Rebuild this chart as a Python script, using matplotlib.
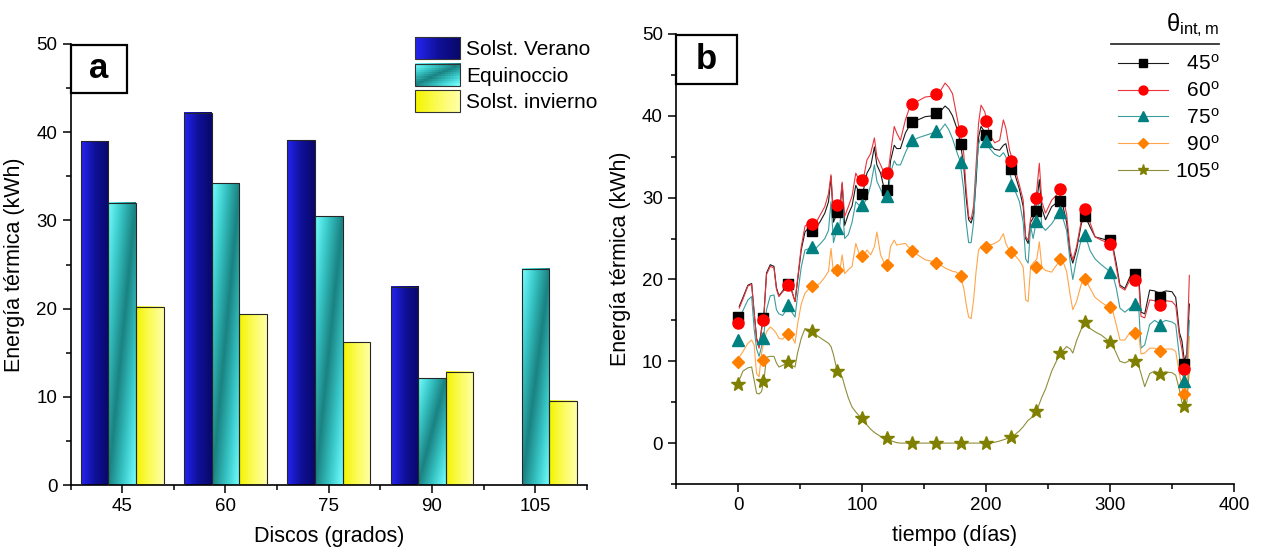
import numpy as np
import matplotlib
matplotlib.use('Agg')
import matplotlib.pyplot as plt
from matplotlib.colors import LinearSegmentedColormap
from matplotlib.legend_handler import HandlerBase
from matplotlib.patches import Rectangle, Patch
from matplotlib.lines import Line2D
from matplotlib.ticker import MultipleLocator, FixedLocator

plt.rcParams['font.family'] = ['Liberation Sans', 'DejaVu Sans']
plt.rcParams['mathtext.fontset'] = 'custom'
plt.rcParams['mathtext.rm'] = 'Liberation Sans'
plt.rcParams['mathtext.it'] = 'Liberation Sans:italic'
plt.rcParams['mathtext.bf'] = 'Liberation Sans:bold'

# ---- (a) energía por disco en los días característicos ----
discos = ['45', '60', '75', '90', '105']
verano = [39.0, 42.2, 39.1, 22.5, np.nan]
equinoccio = [32.0, 34.2, 30.45, 12.1, 24.5]
invierno = [20.2, 19.35, 16.2, 12.85, 9.55]

# ---- (b) simulación anual, kWh por día ----
dias = [1, 4, 8, 11, 13, 15, 17, 19, 21, 23, 26, 29, 31, 33, 36, 40, 43, 46, 48, 51,
        54, 58, 62, 66, 70, 73, 75, 77, 80, 82, 84, 86, 89, 92, 95, 98, 101, 104, 107, 110,
        112, 115, 118, 121, 123, 126, 128, 131, 135, 139, 145, 151, 157, 163, 167, 170, 173, 176, 179, 182,
        184, 186, 188, 190, 192, 194, 196, 199, 203, 207, 211, 214, 216, 219, 223, 227, 230, 232, 234, 236,
        238, 241, 243, 245, 248, 253, 258, 262, 265, 268, 270, 273, 277, 280, 284, 288, 293, 298, 302, 305,
        308, 312, 316, 320, 323, 325, 328, 332, 336, 340, 345, 350, 353, 356, 358, 360, 362, 364]

e45 = [16.7, 17.8, 19.3, 19.5, 16.0, 12.8, 11.8, 14.0, 16.0, 20.8, 21.8, 21.6, 19.0, 18.0, 18.6, 19.2, 18.8, 17.3, 19.8, 23.6,
       25.8, 26.5, 26.2, 27.0, 28.1, 29.5, 32.6, 27.0, 28.2, 28.0, 31.7, 26.6, 28.0, 29.0, 31.5, 30.5, 30.8, 33.0, 33.8, 36.2,
       34.0, 33.0, 31.0, 31.0, 34.5, 36.4, 36.0, 36.0, 37.9, 39.0, 39.5, 39.9, 40.0, 40.5, 41.2, 40.8, 40.0, 38.7, 37.0, 34.0,
       30.0, 27.3, 26.9, 28.0, 32.0, 37.4, 38.7, 38.0, 36.5, 35.9, 35.8, 36.4, 36.6, 34.6, 33.0, 31.0, 28.9, 25.0, 24.4, 27.0,
       27.5, 29.5, 32.2, 28.7, 27.3, 28.9, 29.5, 29.0, 27.0, 23.0, 22.0, 23.6, 26.9, 27.7, 26.4, 25.2, 25.0, 24.8, 24.3, 22.0,
       19.3, 18.9, 20.3, 20.7, 20.9, 16.0, 15.8, 18.7, 18.6, 18.3, 18.6, 18.5, 17.8, 13.5, 12.5, 10.0, 11.0, 17.0]

e60 = [16.5, 17.6, 19.2, 19.4, 16.0, 12.6, 11.6, 13.8, 15.8, 20.6, 21.6, 21.4, 18.8, 17.9, 18.5, 19.1, 18.7, 17.3, 20.0, 24.0,
       26.5, 27.0, 26.7, 27.8, 28.9, 30.5, 32.8, 28.0, 29.0, 28.8, 31.9, 27.7, 28.9, 30.2, 33.0, 32.0, 32.2, 34.6, 35.4, 37.3,
       35.0, 34.0, 33.0, 33.0, 35.4, 38.7, 37.9, 37.0, 39.5, 41.3, 41.8, 42.3, 42.4, 43.0, 44.0, 43.5, 42.7, 40.3, 38.0, 35.5,
       31.0, 27.7, 27.3, 29.0, 34.0, 39.1, 41.3, 40.5, 37.7, 36.7, 37.0, 39.5, 38.5, 35.8, 33.8, 31.5, 29.7, 25.2, 24.8, 27.5,
       28.0, 31.0, 34.2, 29.5, 28.1, 29.7, 30.5, 30.0, 28.0, 23.5, 22.4, 24.0, 27.3, 28.5, 26.9, 25.2, 24.8, 24.5, 24.0, 21.5,
       19.1, 18.7, 19.9, 19.8, 20.0, 15.5, 15.3, 17.5, 17.4, 17.0, 17.4, 17.3, 16.8, 13.0, 11.5, 9.2, 11.0, 20.5]

e75 = [15.2, 16.2, 17.5, 17.9, 14.0, 11.5, 10.6, 11.8, 13.5, 16.3, 18.0, 18.1, 16.3, 15.8, 15.6, 16.5, 16.1, 15.4, 18.0, 21.5,
       23.6, 23.8, 23.7, 24.3, 25.0, 26.0, 29.5, 24.5, 26.3, 26.5, 29.5, 25.0, 25.5, 27.0, 29.5, 29.0, 29.1, 30.0, 31.5, 34.0,
       32.0, 31.0, 30.0, 30.2, 33.0, 34.5, 34.0, 34.0, 35.5, 36.8, 37.3, 37.6, 37.9, 38.2, 39.0, 38.3, 37.2, 35.8, 34.5, 31.0,
       27.0, 24.5, 24.5, 27.0, 33.0, 36.5, 37.5, 37.0, 36.0, 35.3, 35.0, 35.5, 35.0, 33.0, 31.0, 29.5, 27.0, 22.5, 22.0, 26.5,
       25.0, 27.5, 30.5, 26.5, 26.0, 26.8, 28.0, 27.5, 26.0, 22.0, 20.0, 22.5, 25.0, 25.4, 23.5, 22.5, 21.8, 21.2, 20.7, 19.0,
       16.5, 16.0, 16.5, 17.0, 17.0, 11.6, 12.0, 14.5, 15.0, 14.6, 15.0, 14.8, 14.5, 10.5, 8.5, 7.8, 9.0, 15.0]

e90 = [10.5, 11.2, 12.2, 12.6, 12.0, 8.5, 8.1, 11.0, 12.5, 13.6, 14.2, 13.8, 13.4, 12.8, 12.7, 13.4, 13.2, 12.2, 14.5, 17.0,
       18.3, 19.0, 19.2, 19.5, 20.3, 21.0, 23.8, 20.7, 21.1, 21.0, 23.0, 20.7, 21.2, 21.6, 24.4, 23.0, 22.8, 23.6, 23.0, 24.0,
       25.8, 23.0, 22.0, 21.8, 24.0, 24.8, 24.2, 24.3, 24.4, 23.7, 23.0, 22.4, 22.2, 21.8, 21.4, 21.2, 21.0, 20.9, 20.5, 19.0,
       17.0, 15.4, 15.2, 17.5, 21.0, 23.6, 24.0, 24.0, 24.2, 24.4, 24.8, 25.6, 24.4, 23.5, 23.0, 22.3, 21.5, 17.5, 17.3, 21.6,
       22.0, 22.5, 24.6, 21.5, 21.1, 20.9, 22.0, 22.2, 21.0, 18.0, 16.3, 17.3, 19.5, 20.1, 18.9, 17.8, 17.2, 16.7, 16.3, 14.5,
       12.6, 12.6, 13.5, 13.4, 13.5, 10.9, 11.0, 11.6, 11.6, 11.3, 11.5, 11.5, 11.2, 8.5, 6.8, 6.1, 7.0, 13.0]

e105 = [7.7, 8.8, 9.2, 9.3, 7.7, 6.1, 6.0, 6.3, 7.8, 10.5, 10.6, 10.6, 9.8, 9.3, 9.5, 9.8, 9.5, 9.3, 11.0, 12.8,
        14.0, 13.8, 13.3, 12.9, 12.5, 12.2, 11.8, 10.8, 8.8, 8.4, 8.1, 7.0, 5.5, 4.4, 3.8, 3.3, 2.9, 2.2, 1.7, 1.3,
        1.1, 0.8, 0.6, 0.4, 0.3, 0.15, 0.05, 0.0, 0.0, 0.0, 0.0, 0.0, 0.0, 0.0, 0.0, 0.0, 0.0, 0.0, 0.0, 0.0,
        0.0, 0.0, 0.0, 0.0, 0.0, 0.0, 0.0, 0.0, 0.0, 0.1, 0.25, 0.4, 0.5, 0.7, 1.0, 1.5, 2.0, 2.4, 2.8, 3.0,
        3.4, 4.0, 4.8, 5.6, 6.6, 8.8, 10.4, 11.3, 11.8, 11.5, 11.0, 12.5, 14.0, 14.8, 14.0, 13.6, 13.2, 12.6, 12.0, 11.0,
        10.0, 9.8, 10.1, 9.9, 9.5, 8.5, 6.9, 8.5, 8.8, 8.5, 8.7, 8.6, 8.3, 6.5, 5.0, 4.5, 5.0, 9.0]

# valores marcados cada 20 días
dias_m = [0, 20, 40, 60, 80, 100, 120, 140, 160, 180, 200, 220, 240, 260, 280, 300, 320, 340, 360]
m45 = [15.4, 15.3, 19.4, 25.9, 28.2, 30.5, 30.9, 39.2, 40.3, 36.5, 37.7, 33.5, 28.4, 29.6, 27.7, 24.8, 20.7, 17.8, 9.7]
m60 = [14.7, 15.0, 19.3, 26.8, 29.1, 32.2, 33.0, 41.5, 42.7, 38.1, 39.4, 34.5, 29.9, 31.1, 28.6, 24.3, 19.9, 16.9, 9.0]
m75 = [12.6, 12.9, 16.9, 24.0, 26.3, 29.1, 30.2, 37.0, 38.1, 34.3, 36.9, 31.6, 27.1, 28.2, 25.4, 20.9, 17.0, 14.4, 7.6]
m90 = [9.9, 10.2, 13.3, 19.2, 21.1, 22.9, 21.8, 23.5, 22.0, 20.4, 24.0, 23.4, 21.5, 22.5, 20.1, 16.6, 13.4, 11.2, 6.0]
m105 = [7.2, 7.6, 9.9, 13.7, 8.8, 3.1, 0.6, 0.0, 0.0, 0.0, 0.0, 0.8, 3.9, 11.0, 14.8, 12.3, 10.0, 8.4, 4.5]


def gradient_field(nx, ny, diagonal):
    # 0..1 a lo largo de la barra; en diagonal el tono cambia de lado con la altura
    u = np.linspace(0, 1, nx)[None, :]
    v = np.linspace(1, 0, ny)[:, None]
    if diagonal:
        return np.abs(u - v)
    return np.repeat(u, ny, axis=0)


class GradientPatchHandler(HandlerBase):
    """Cuadro de leyenda relleno con el mismo degradado que las barras."""
    def __init__(self, cmap, diagonal=False, **kw):
        super().__init__(**kw)
        self.cmap = cmap
        self.diagonal = diagonal

    def create_artists(self, legend, orig_handle, xdescent, ydescent,
                       width, height, fontsize, trans):
        nx, ny = 30, 10
        field = gradient_field(nx, ny, self.diagonal)
        arts = []
        dx, dy = width / nx, height / ny
        for j in range(ny):
            for i in range(nx):
                arts.append(Rectangle((-xdescent + i * dx, -ydescent + height - (j + 1) * dy),
                                      dx + 0.3, dy + 0.3, facecolor=self.cmap(field[j, i]),
                                      edgecolor='none', transform=trans))
        arts.append(Rectangle((-xdescent, -ydescent), width, height, facecolor='none',
                              edgecolor='#333333', lw=0.8, transform=trans))
        return arts


def gradient_bars(ax, xpos, values, width, cmap, diagonal=False):
    field = gradient_field(64, 128, diagonal)
    for x, v in zip(xpos, values):
        if np.isnan(v) or v <= 0:
            continue
        ax.imshow(field, cmap=cmap, vmin=0, vmax=1, extent=[x - width / 2, x + width / 2, 0, v],
                  aspect='auto', interpolation='bicubic', zorder=2)
    ax.bar(xpos, values, width, facecolor='none', edgecolor='#262626', lw=0.8, zorder=3)


def panel_tag(ax, letter):
    ax.add_patch(Rectangle((0.0, 0.89), 0.11, 0.108, transform=ax.transAxes,
                           facecolor='white', edgecolor='black', lw=1.6, zorder=5, clip_on=False))
    ax.text(0.055, 0.944, letter, transform=ax.transAxes, ha='center', va='center',
            fontsize=25, fontweight='bold', zorder=6)


fig = plt.figure(figsize=(12.61, 5.58), dpi=100)

# ---------------- panel a ----------------
ax = fig.add_axes([70.5 / 1261, 73 / 558, 516.5 / 1261, 441 / 558])
cm_ver = LinearSegmentedColormap.from_list('ver', ['#2424f2', '#10109a', '#08086a'])
cm_equ = LinearSegmentedColormap.from_list('equ', ['#1a8282', '#38c6c6', '#74ffff'])
cm_inv = LinearSegmentedColormap.from_list('inv', ['#f4f400', '#fbfb5a', '#ffffa8'])

x = np.arange(1, len(discos) + 1)
w = 0.267
gradient_bars(ax, x - w, verano, w, cm_ver)
gradient_bars(ax, x, equinoccio, w, cm_equ, diagonal=True)
gradient_bars(ax, x + w, invierno, w, cm_inv)

ax.set_xlim(0.5, 5.5)
ax.set_ylim(0, 50)
ax.set_xticks(x)
ax.set_xticklabels(discos)
ax.xaxis.set_minor_locator(FixedLocator(np.arange(0.5, 5.6, 1.0)))
ax.yaxis.set_major_locator(MultipleLocator(10))
ax.yaxis.set_minor_locator(MultipleLocator(5))
for s in ['top', 'right']:
    ax.spines[s].set_visible(False)
for s in ['left', 'bottom']:
    ax.spines[s].set_linewidth(1.2)
ax.tick_params(which='major', direction='out', length=6, width=1.1, labelsize=13.5)
ax.tick_params(which='minor', direction='out', length=3.5, width=1.1)
ax.set_xlabel('Discos (grados)', fontsize=15.5, labelpad=8)
ax.set_ylabel('Energía térmica (kWh)', fontsize=15.5, labelpad=8)
panel_tag(ax, 'a')

p_ver, p_equ, p_inv = Patch(), Patch(), Patch()
ax.legend([p_ver, p_equ, p_inv], ['Solst. Verano', 'Equinoccio', 'Solst. invierno'],
          handler_map={p_ver: GradientPatchHandler(cm_ver),
                       p_equ: GradientPatchHandler(cm_equ, diagonal=True),
                       p_inv: GradientPatchHandler(cm_inv)},
          loc='upper left', bbox_to_anchor=(415 / 1261, 1 - 37 / 558), bbox_transform=fig.transFigure,
          frameon=False, fontsize=15, handlelength=2.17, handleheight=1.25, labelspacing=0.22,
          handletextpad=0.3, borderpad=0, borderaxespad=0)

# ---------------- panel b ----------------
bx = fig.add_axes([676 / 1261, 74 / 558, 558 / 1261, 450 / 558])
series = [
    (e45, m45, '#1a1a1a', 'black', 's', 7.2, '  45$^{\\mathrm{o}}$'),
    (e60, m60, '#e8343c', '#ff0000', 'o', 8.0, '  60$^{\\mathrm{o}}$'),
    (e75, m75, '#3c9c9c', '#008080', '^', 8.5, '  75$^{\\mathrm{o}}$'),
    (e90, m90, '#ffa54a', '#ff8000', 'D', 6.2, '  90$^{\\mathrm{o}}$'),
    (e105, m105, '#8e8e3a', '#808000', '*', 10.0, '105$^{\\mathrm{o}}$'),
]
handles, labels = [], []
for vals, marks, lc, mc, mk, ms, lab in series:
    bx.plot(dias, vals, color=lc, lw=0.8, zorder=2)
for vals, marks, lc, mc, mk, ms, lab in series:
    bx.plot(dias_m, marks, ls='none', marker=mk, ms=ms, mfc=mc, mec=mc, zorder=4)
    handles.append(Line2D([], [], color=lc, lw=0.8, marker=mk, ms=ms * 0.8, mfc=mc, mec=mc))
    labels.append(lab)

bx.set_xlim(-50, 400)
bx.set_ylim(-5, 50)
bx.xaxis.set_major_locator(MultipleLocator(100))
bx.xaxis.set_minor_locator(MultipleLocator(50))
bx.yaxis.set_major_locator(MultipleLocator(10))
bx.yaxis.set_minor_locator(MultipleLocator(5))
for s in ['top', 'right']:
    bx.spines[s].set_visible(False)
for s in ['left', 'bottom']:
    bx.spines[s].set_linewidth(1.2)
bx.tick_params(which='major', direction='out', length=6, width=1.1, labelsize=13.5)
bx.tick_params(which='minor', direction='out', length=3.5, width=1.1)
bx.set_xlabel('tiempo (días)', fontsize=15.5, labelpad=8)
bx.set_ylabel('Energía térmica (kWh)', fontsize=15.5, labelpad=8)
panel_tag(bx, 'b')

bx.legend(handles, labels, loc='upper right', bbox_to_anchor=(1220 / 1261, 1 - 54 / 558),
          bbox_transform=fig.transFigure, frameon=False, fontsize=15, handlelength=2.4,
          handletextpad=0.35, labelspacing=0.33, borderpad=0, borderaxespad=0)
fig.text(1219 / 1261, 1 - 25 / 558, 'θ$_{\\mathrm{int,m}}$', ha='right', va='center', fontsize=17)
fig.add_artist(Line2D([1111 / 1261, 1219 / 1261], [1 - 44 / 558, 1 - 44 / 558], color='#333333', lw=1.3))

fig.savefig('out.png', dpi=100)
